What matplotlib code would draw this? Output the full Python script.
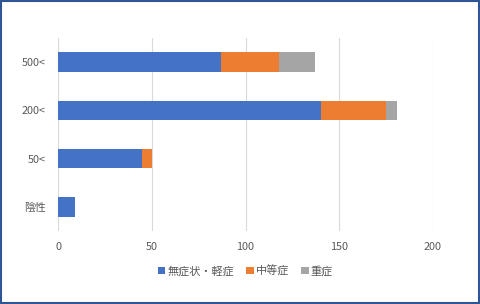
import numpy as np
import matplotlib.pyplot as plt
from matplotlib.patches import Rectangle

plt.rcParams['font.family'] = ['Noto Sans CJK JP', 'DejaVu Sans']

categories = ['陰性', '50<', '200<', '500<']
mild = [9, 45, 140, 87]
moderate = [0, 5, 35, 31]
severe = [0, 0, 6, 19]
series_names = ['無症状・軽症', '中等症', '重症']
colors = ['#4472C4', '#ED7D31', '#A5A5A5']

fig = plt.figure(figsize=(4.8, 3.04), dpi=100)
ax = fig.add_axes([58 / 480, 1 - 231 / 304, 375 / 480, 193 / 304])

y = np.arange(len(categories))
left = np.zeros(len(categories))
for vals, name, c in zip([mild, moderate, severe], series_names, colors):
    ax.barh(y, vals, left=left, height=0.4, color=c, label=name, zorder=3)
    left += np.array(vals)

ax.set_xlim(0, 200)
ax.set_ylim(-0.5, 3.5)
ax.set_xticks([0, 50, 100, 150, 200])
ax.set_yticks(y)
ax.set_yticklabels(categories)
ax.grid(axis='x', color='#D9D9D9', linewidth=0.8, zorder=0)
for s in ax.spines.values():
    s.set_visible(False)
ax.tick_params(length=0, labelsize=7.8, labelcolor='#595959')
ax.tick_params(axis='x', pad=8)
ax.tick_params(axis='y', pad=9)

leg = ax.legend(loc='upper center', bbox_to_anchor=(0.5, -0.125), ncol=3,
                frameon=False, fontsize=8, handlelength=0.65, handleheight=0.65,
                handletextpad=0.2, columnspacing=1.1)
for t in leg.get_texts():
    t.set_color('#595959')

fig.patches.append(Rectangle((0.002, 0.003), 0.995, 0.994, transform=fig.transFigure,
                             fill=False, edgecolor='#2F5597', linewidth=1.5))

fig.savefig('out.png', dpi=100)
